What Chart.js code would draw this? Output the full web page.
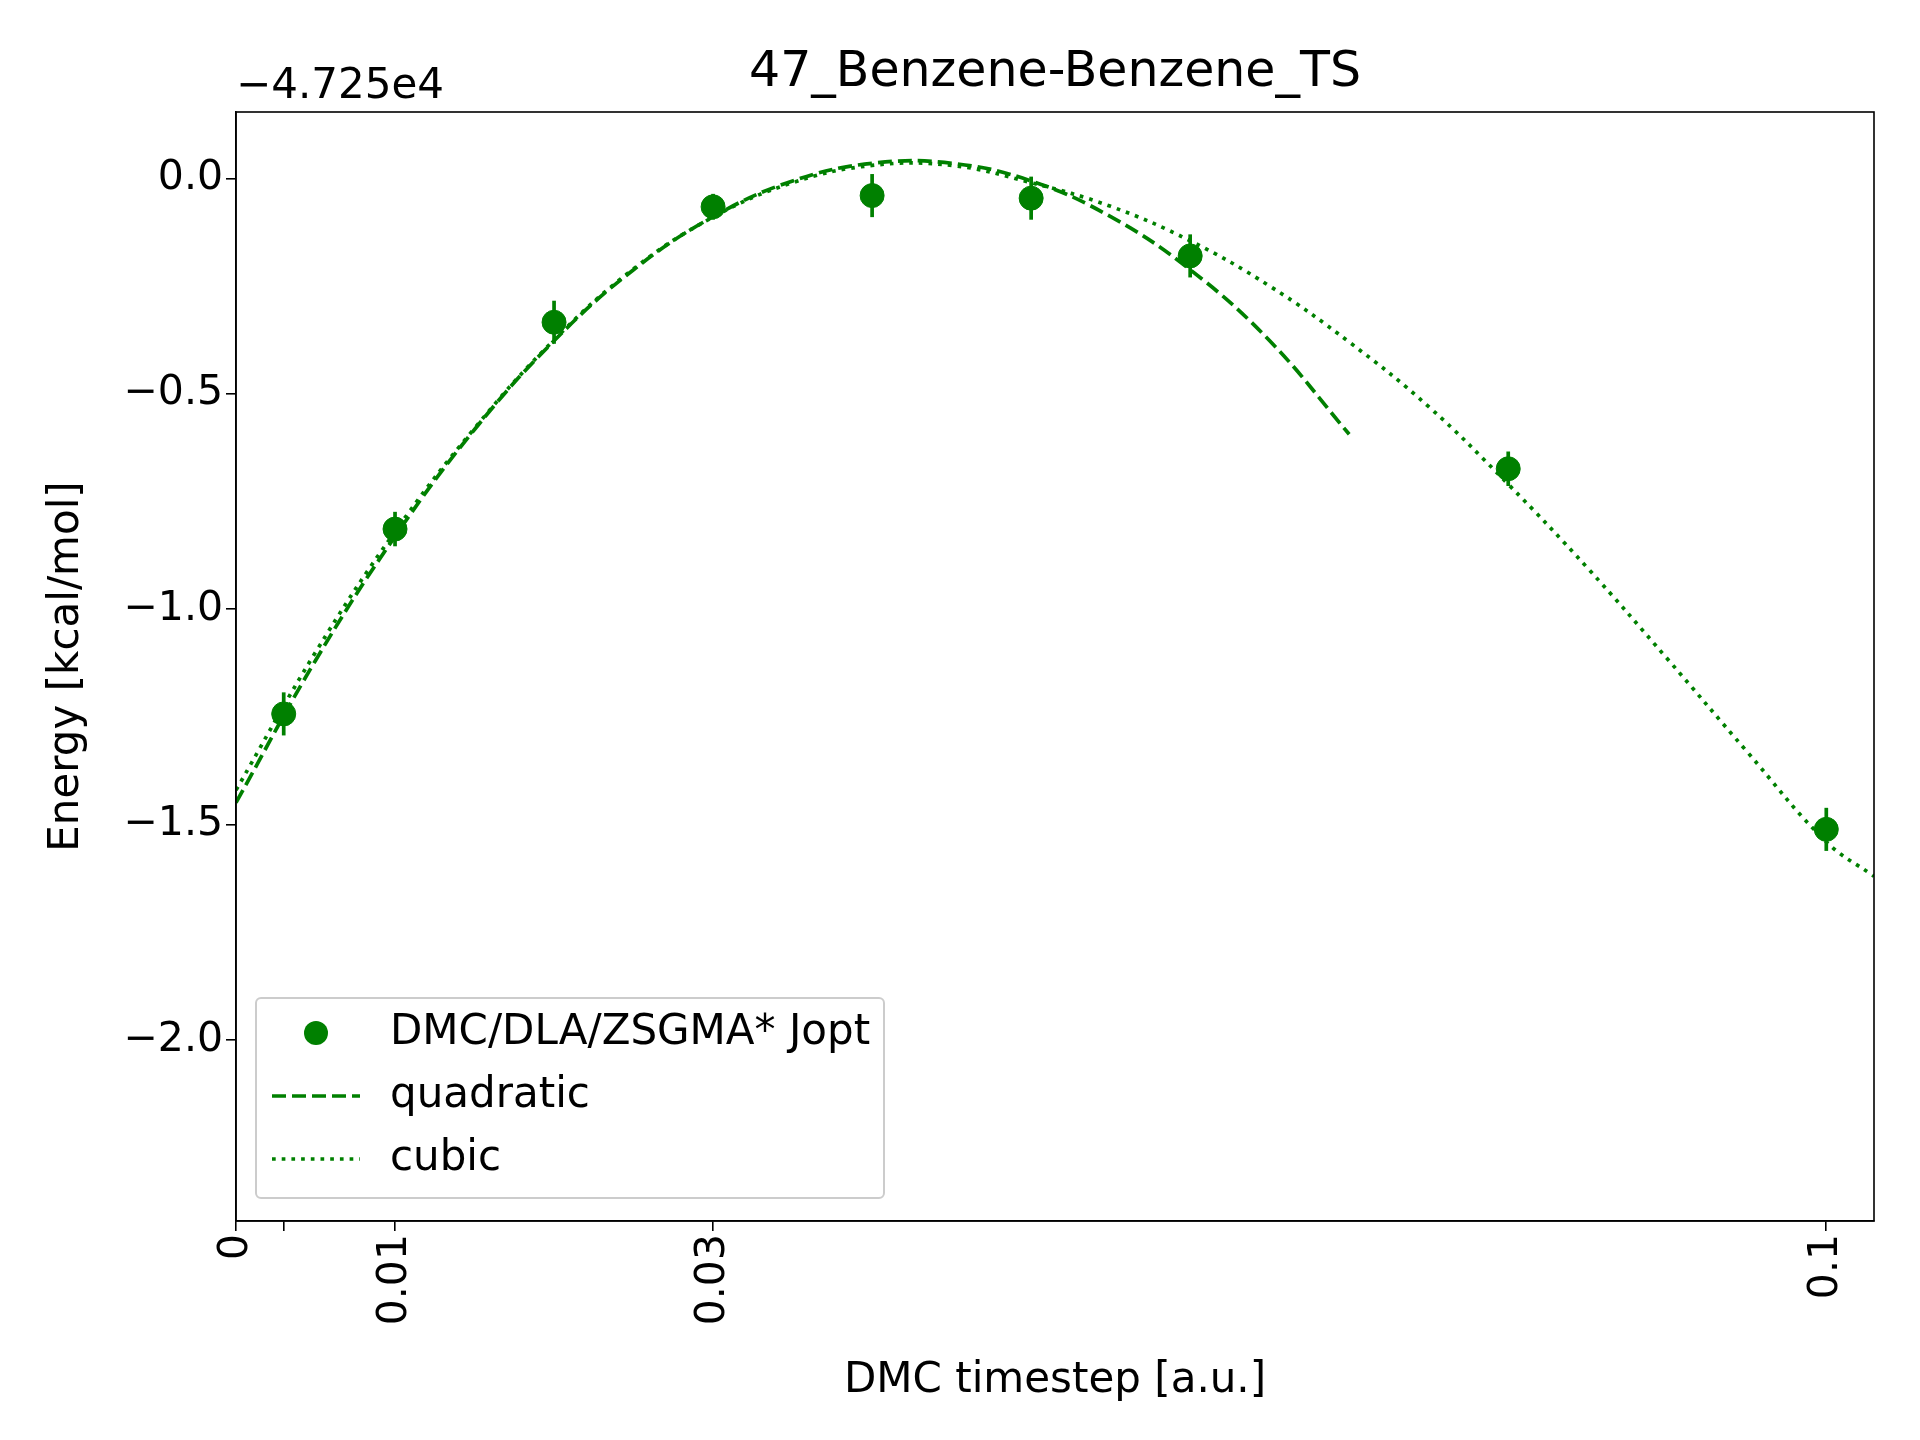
<!DOCTYPE html>
<html>
<head>
<meta charset="utf-8">
<script src="https://cdn.jsdelivr.net/npm/chart.js@4.4.0/dist/chart.umd.min.js"></script>
<style>
  body { margin: 0; background: #fff; }
  #wrap { width: 1920px; height: 1440px; }
</style>
</head>
<body>
<div id="wrap"><canvas id="c" width="1920" height="1440"></canvas></div>
<script>
// DMC data (energy relative to -4.725e4 kcal/mol)
const dmcX = [0.003, 0.01, 0.02, 0.03, 0.04, 0.05, 0.06, 0.08, 0.1];
const dmcY = [-1.243, -0.814, -0.334, -0.066, -0.040, -0.046, -0.180, -0.674, -1.511];
const dmcErr = [0.05, 0.04, 0.05, 0.03, 0.05, 0.05, 0.05, 0.04, 0.05];

// fit curves
const quadX = [0, 0.005, 0.01, 0.015, 0.02, 0.025, 0.03, 0.035, 0.04, 0.045, 0.05, 0.055, 0.06, 0.065, 0.07];
const quadY = [-1.449, -1.119, -0.831, -0.583, -0.377, -0.212, -0.089, -0.006, 0.035, 0.035, -0.006, -0.089, -0.212, -0.377, -0.594];
const cubX = [0, 0.005, 0.01, 0.015, 0.02, 0.025, 0.03, 0.035, 0.04, 0.045, 0.05, 0.055, 0.06, 0.065, 0.07, 0.075, 0.08, 0.085, 0.09, 0.095, 0.1, 0.103];
const cubY = [-1.42, -1.10, -0.82, -0.58, -0.375, -0.21, -0.09, -0.01, 0.03, 0.03, -0.01, -0.065, -0.145, -0.25, -0.38, -0.53, -0.71, -0.905, -1.115, -1.33, -1.54, -1.62];

const xTicks = [0, 0.003, 0.01, 0.03, 0.1];
const xTickLabels = ['0', '', '0.01', '0.03', '0.1'];
const yTicks = [0, -0.5, -1.0, -1.5, -2.0];

const GREEN = '#008000';
const FONT = 'DejaVu Sans';
const toPts = (xs, ys) => xs.map((x, i) => ({ x, y: ys[i] }));
const fmtY = v => (v < 0 ? '\u2212' : '') + Math.abs(v).toFixed(1);

const extras = {
  id: 'extras',
  afterDatasetsDraw(chart) {
    const { ctx, chartArea: a, scales: { x, y } } = chart;
    ctx.save();
    // error bars
    ctx.strokeStyle = GREEN; ctx.lineWidth = 3.7;
    dmcX.forEach((v, i) => {
      const px = x.getPixelForValue(v);
      ctx.beginPath();
      ctx.moveTo(px, y.getPixelForValue(dmcY[i] - dmcErr[i]));
      ctx.lineTo(px, y.getPixelForValue(dmcY[i] + dmcErr[i]));
      ctx.stroke();
    });
    // frame
    ctx.strokeStyle = '#000'; ctx.lineWidth = 1.6;
    ctx.strokeRect(a.left, a.top, a.right - a.left, a.bottom - a.top);
    // title + offset
    ctx.fillStyle = '#000';
    ctx.font = `49px ${FONT}`;
    ctx.textAlign = 'center'; ctx.textBaseline = 'alphabetic';
    ctx.fillText('47_Benzene-Benzene_TS', (a.left + a.right) / 2, 86);
    // axis titles
    ctx.font = `42px ${FONT}`;
    ctx.fillText('DMC timestep [a.u.]', (a.left + a.right) / 2, 1392);
    ctx.save();
    ctx.translate(78, (a.top + a.bottom) / 2);
    ctx.rotate(-Math.PI / 2);
    ctx.fillText('Energy [kcal/mol]', 0, 0);
    ctx.restore();
    ctx.textAlign = 'left';
    ctx.fillText('\u22124.725e4', a.left, 98);
    // legend
    const lx = 256, ly = 998, lw = 628, lh = 200;
    ctx.fillStyle = 'rgba(255,255,255,0.8)';
    ctx.strokeStyle = '#ccc'; ctx.lineWidth = 2;
    ctx.beginPath(); ctx.roundRect(lx, ly, lw, lh, 5); ctx.fill(); ctx.stroke();
    const rows = [ly + 35, ly + 98, ly + 161];
    ctx.fillStyle = GREEN;
    ctx.beginPath(); ctx.arc(lx + 60, rows[0], 12, 0, Math.PI * 2); ctx.fill();
    ctx.strokeStyle = GREEN; ctx.lineWidth = 3.7;
    ctx.setLineDash([14, 6]);
    ctx.beginPath(); ctx.moveTo(lx + 16, rows[1]); ctx.lineTo(lx + 104, rows[1]); ctx.stroke();
    ctx.setLineDash([3.7, 6]);
    ctx.beginPath(); ctx.moveTo(lx + 16, rows[2]); ctx.lineTo(lx + 104, rows[2]); ctx.stroke();
    ctx.setLineDash([]);
    ctx.fillStyle = '#000'; ctx.font = `42px ${FONT}`;
    ctx.textBaseline = 'middle';
    ['DMC/DLA/ZSGMA* Jopt', 'quadratic', 'cubic'].forEach((t, i) => ctx.fillText(t, lx + 134, rows[i]));
    ctx.restore();
  }
};

new Chart(document.getElementById('c'), {
  data: {
    datasets: [
      { type: 'scatter', data: toPts(dmcX, dmcY), backgroundColor: GREEN, borderColor: GREEN, pointRadius: 12 },
      { type: 'line', data: toPts(quadX, quadY), borderColor: GREEN, borderWidth: 3.7, borderDash: [14, 6], pointRadius: 0, tension: 0.4, fill: false },
      { type: 'line', data: toPts(cubX, cubY), borderColor: GREEN, borderWidth: 3.7, borderDash: [3.7, 6], pointRadius: 0, tension: 0.4, fill: false },
    ],
  },
  options: {
    responsive: false,
    animation: false,
    layout: { padding: { top: 112, right: 46, left: 0, bottom: 0 } },
    plugins: { legend: { display: false }, tooltip: { enabled: false } },
    scales: {
      x: {
        type: 'linear', min: 0, max: 0.103,
        afterBuildTicks: s => { s.ticks = xTicks.map(v => ({ value: v })); },
        afterFit: s => { s.height = 219; },
        ticks: { color: '#000', font: { family: FONT, size: 41 }, minRotation: 90, maxRotation: 90, autoSkip: false,
          callback: (v) => xTickLabels[xTicks.indexOf(v)] ?? '' },
        grid: { drawOnChartArea: false, tickLength: 10, color: '#000', lineWidth: 1.6 },
        border: { color: '#000', width: 1.6 },
      },
      y: {
        type: 'linear', min: -2.42, max: 0.154,
        afterBuildTicks: s => { s.ticks = yTicks.map(v => ({ value: v })); },
        afterFit: s => { s.width = 236; },
        ticks: { color: '#000', font: { family: FONT, size: 41 }, callback: v => fmtY(v) },
        grid: { drawOnChartArea: false, tickLength: 10, color: '#000', lineWidth: 1.6 },
        border: { color: '#000', width: 1.6 },
      },
    },
  },
  plugins: [extras],
});
</script>
</body>
</html>
